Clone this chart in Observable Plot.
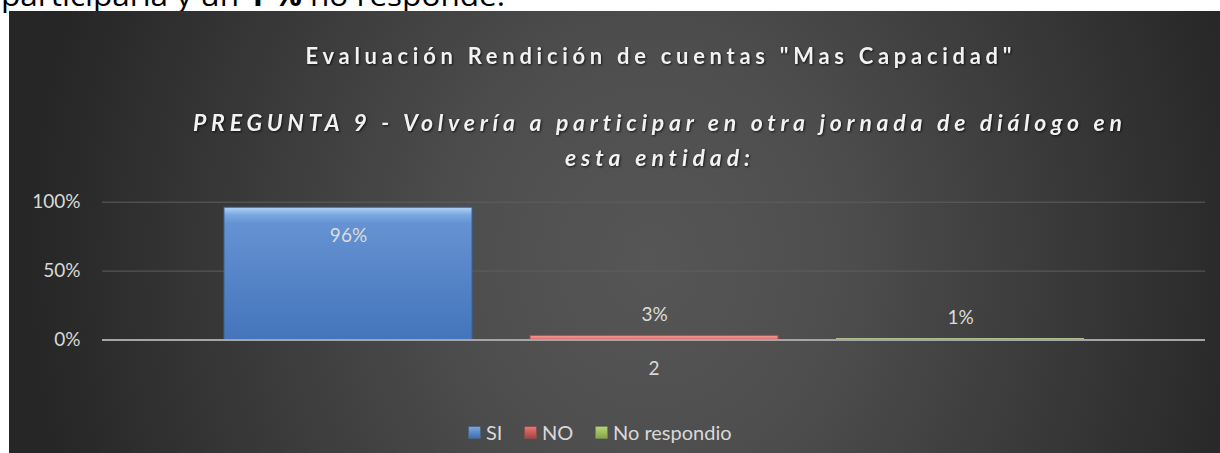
<!DOCTYPE html>
<html>
<head>
<meta charset="utf-8">
<script src="https://cdn.jsdelivr.net/npm/d3@7"></script>
<script src="https://cdn.jsdelivr.net/npm/@observablehq/plot@0.6"></script>
<style>
  html, body { margin: 0; padding: 0; background: #ffffff; }
  body { width: 1220px; height: 453px; overflow: hidden; position: relative; font-family: Lato, "Open Sans", sans-serif; }
  #panel { position: absolute; left: 9px; top: 11px; width: 1211px; height: 442px;
    background: radial-gradient(ellipse 620px 700px at 641px 249px, #565656 0%, #4e4e4e 30%, #262626 100%); }
  #overlay, #chart { position: absolute; left: 0; top: 0; }
  #legend { position: absolute; top: 420px; left: 0; width: 1220px; height: 24px; }
  .item { position: absolute; top: 0; height: 24px; line-height: 24px; font-size: 20px; color: #d9d9d9; white-space: nowrap; }
  .sw { position: absolute; top: 7px; width: 11px; height: 11px; }
  text { font-variant-ligatures: none; }
</style>
</head>
<body>
<svg id="overlay" width="1220" height="453"></svg>
<div id="panel"></div>
<div id="chart"></div>
<div id="legend"></div>
<script>
// ---- data ----
const introText = ["participaría y un ", "1 %", " no responde."];
const titleText = "Evaluación Rendición de cuentas \"Mas Capacidad\"";
const subtitleLines = ["PREGUNTA 9 - Volvería a participar en otra jornada de diálogo en", "esta entidad:"];
const categories = ["2"];
const series = ["SI", "NO", "No respondio"];
const values = [96, 3, 1];
const valueLabels = ["96%", "3%", "1%"];
const yTicks = [0, 50, 100];
const yTickLabels = ["0%", "50%", "100%"];
const seriesColors = ["#4f81bd", "#c0504d", "#9bbb59"];

const data = series.map((s, i) => ({cat: categories[0], series: s, value: values[i], label: valueLabels[i]}));

// ---- intro text (cut off at top) ----
const ns = "http://www.w3.org/2000/svg";
const ov = document.getElementById("overlay");
function addText(parent, x, y, opts) {
  const t = document.createElementNS(ns, "text");
  t.setAttribute("x", x); t.setAttribute("y", y);
  for (const k in opts) if (k !== "text") t.setAttribute(k, opts[k]);
  if (opts.text) t.textContent = opts.text;
  parent.appendChild(t);
  return t;
}
const intro = addText(ov, 1, 6, {"font-family": "'Open Sans'", "font-size": 29, fill: "#000", textLength: 504, lengthAdjust: "spacingAndGlyphs"});
introText.forEach((s, i) => {
  const ts = document.createElementNS(ns, "tspan");
  ts.textContent = s;
  if (i === 1) ts.setAttribute("font-weight", "bold");
  intro.appendChild(ts);
});

// ---- chart ----
const chart = Plot.plot({
  width: 1220,
  height: 453,
  marginLeft: 102,
  marginRight: 15,
  marginTop: 201.7,
  marginBottom: 113.5,
  style: {background: "transparent", color: "#d9d9d9", fontFamily: "Lato, 'Open Sans', sans-serif"},
  fx: {domain: categories, padding: 0, label: null},
  x: {domain: series, paddingInner: 0.19, paddingOuter: 0.395, axis: null},
  y: {domain: [0, 100], label: null},
  color: {domain: series, range: ["url(#gSI)", "url(#gNO)", "url(#gNR)"]},
  marks: [
    Plot.gridY(yTicks, {stroke: "#5f5f5f", strokeOpacity: 1, strokeWidth: 1}),
    Plot.axisY({ticks: yTicks, tickFormat: (d) => yTickLabels[yTicks.indexOf(d)], tickSize: 0, tickPadding: 22, fontSize: 19, fill: "#d9d9d9"}),
    Plot.axisFx({anchor: "bottom", tickSize: 0, tickPadding: 21, fontSize: 19, fill: "#d9d9d9", label: null}),
    Plot.barY(data, {fx: "cat", x: "series", y: "value", fill: "series",
      stroke: (d) => d.series === "SI" ? "#3a6296" : d.series === "NO" ? "#b04c4a" : "none", strokeWidth: 1}),
    Plot.ruleY([0], {stroke: "#a6a6a6", strokeWidth: 2}),
    Plot.text(data.filter(d => d.value > 50), {fx: "cat", x: "series", y: "value", text: "label", dy: 28, fontSize: 19, fill: "#dcdcdc"}),
    Plot.text(data.filter(d => d.value <= 50), {fx: "cat", x: "series", y: "value", text: "label", dy: -21, fontSize: 19, fill: "#dcdcdc"})
  ]
});

// gradients for the beveled bars
const defs = document.createElementNS(ns, "defs");
defs.innerHTML = `
  <linearGradient id="gSI" x1="0" y1="0" x2="0" y2="1">
    <stop offset="0" stop-color="#b3d4f7"/>
    <stop offset="0.06" stop-color="#79a7e0"/>
    <stop offset="0.12" stop-color="#6592d2"/>
    <stop offset="1" stop-color="#4474bb"/>
  </linearGradient>
  <linearGradient id="gNO" x1="0" y1="0" x2="0" y2="1">
    <stop offset="0" stop-color="#f7a0a0"/>
    <stop offset="1" stop-color="#de6a68"/>
  </linearGradient>
  <linearGradient id="gNR" x1="0" y1="0" x2="0" y2="1">
    <stop offset="0" stop-color="#c3d39e"/>
    <stop offset="1" stop-color="#aabd84"/>
  </linearGradient>`;
chart.insertBefore(defs, chart.firstChild);
document.getElementById("chart").appendChild(chart);

// titles drawn above the plot (inside the dark panel)
const titleSvg = document.createElementNS(ns, "svg");
titleSvg.setAttribute("width", 1220); titleSvg.setAttribute("height", 200);
titleSvg.style.position = "absolute"; titleSvg.style.left = "0"; titleSvg.style.top = "0";
titleSvg.style.filter = "drop-shadow(1px 1px 1px rgba(0,0,0,0.7))";
document.body.appendChild(titleSvg);
addText(titleSvg, 658.5, 64, {text: titleText, "text-anchor": "middle", "font-family": "Lato", "font-weight": "bold", "font-size": 22, fill: "#f2f2f2", textLength: 706, lengthAdjust: "spacing"});
addText(titleSvg, 657.5, 131, {text: subtitleLines[0], "text-anchor": "middle", "font-family": "Lato", "font-weight": "bold", "font-style": "italic", "font-size": 23, fill: "#f2f2f2", textLength: 929, lengthAdjust: "spacing"});
addText(titleSvg, 657.5, 166, {text: subtitleLines[1], "text-anchor": "middle", "font-family": "Lato", "font-weight": "bold", "font-style": "italic", "font-size": 23, fill: "#f2f2f2", textLength: 185, lengthAdjust: "spacing"});

// legend
const legend = document.getElementById("legend");
const legendX = [469, 525, 596];
const swatchFills = [
  "linear-gradient(#7aa6dc, #3f6fb3)",
  "linear-gradient(#e07a78, #b0403d)",
  "linear-gradient(#b9d37c, #86a645)"
];
series.forEach((s, i) => {
  const it = document.createElement("div");
  it.className = "item";
  it.style.left = legendX[i] + "px";
  const sw = document.createElement("div");
  sw.className = "sw";
  sw.style.left = "0px";
  sw.style.background = swatchFills[i];
  sw.style.boxShadow = "0 0 0 0.5px " + seriesColors[i];
  const lab = document.createElement("span");
  lab.textContent = s;
  lab.style.marginLeft = "17px";
  it.appendChild(sw); it.appendChild(lab);
  legend.appendChild(it);
});
</script>
</body>
</html>
